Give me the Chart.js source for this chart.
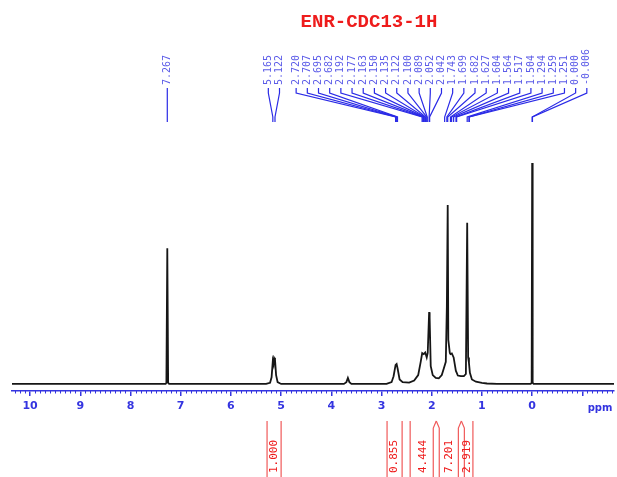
<!DOCTYPE html>
<html>
<head>
<meta charset="utf-8">
<title>ENR-CDC13-1H</title>
<script src="https://cdn.jsdelivr.net/npm/chart.js@4.4.1/dist/chart.umd.min.js"></script>
<style>
  html, body { margin: 0; padding: 0; background: #fff; }
  #wrap { width: 617px; height: 477px; position: relative; }
</style>
</head>
<body>
<div id="wrap"><canvas id="nmr"></canvas></div>
<script>
// 1H NMR spectrum, ENR in CDCl3 - redrawn with Chart.js

var TITLE = 'ENR-CDC13-1H';

// spectrum trace (ppm, relative intensity, TMS = 100)
var shiftPpm = [10.36, 7.30, 7.285, 7.267, 7.25, 7.23,
  5.30, 5.22, 5.19, 5.165, 5.15, 5.14, 5.122, 5.10, 5.07, 5.00,
  3.75, 3.70, 3.67, 3.64, 3.60,
  2.90, 2.80, 2.76, 2.72, 2.70, 2.68, 2.64, 2.58, 2.45, 2.35, 2.27, 2.22, 2.19, 2.16, 2.13, 2.10, 2.08,
  2.052, 2.042, 2.02, 1.98, 1.92, 1.86, 1.80, 1.76, 1.72, 1.699, 1.682, 1.67, 1.64, 1.627, 1.60, 1.564,
  1.52, 1.48, 1.42, 1.36, 1.32, 1.294, 1.275, 1.259, 1.24, 1.20, 1.12, 1.00, 0.90, 0.70,
  0.03, 0.01, 0.000, -0.01, -0.03, -1.63];
var intensity = [0, 0, 0.5, 61.4, 0.5, 0,
  0, 0.5, 3, 10.5, 9, 11.8, 11, 4, 0.8, 0,
  0, 0.8, 2.7, 0.8, 0,
  0, 0.8, 3.5, 8.6, 9, 7, 2, 0.8, 0.6, 1.5, 4, 10, 14, 13.5, 14.2, 12, 14,
  32.5, 30, 8, 4, 2.7, 2.5, 4, 7, 10, 35, 81, 20, 14, 13.5, 13.8, 12,
  6, 3.8, 3.5, 3.5, 4.5, 73, 12, 9.5, 5, 2, 1, 0.5, 0.2, 0,
  0, 0.5, 100, 0.5, 0, 0];

// peak picking labels (ppm)
var peakLabels = ['7.267', '5.165', '5.122',
  '2.720', '2.707', '2.695', '2.682', '2.192', '2.177', '2.163', '2.150', '2.135', '2.122',
  '2.100', '2.089', '2.052', '2.042', '1.743', '1.699', '1.682', '1.627', '1.604', '1.564',
  '1.517', '1.504', '1.294', '1.259', '1.251', '0.000', '-0.006'];

// integral regions (ppm) and values
var integralFrom = [5.28, 2.89, 2.43, 1.91, 1.41];
var integralTo = [5.00, 2.59, 1.91, 1.41, 1.18];
var integralValue = ['1.000', '0.855', '4.444', '7.201', '2.919'];

var BLUE = '#3434e0';
var LABEL_BLUE = '#5c5ce8';
var RED = '#ee1c1c';
var INT_RED = '#f05a5a';

// spread crowded labels: merge overlapping groups, centre each group on its peaks
function spreadLabels(pixels, gap) {
  var groups = pixels.map(function (p, i) { return { first: i, n: 1, sum: p }; });
  function start(g) { return g.sum / g.n - (g.n - 1) * gap / 2; }
  var changed = true;
  while (changed) {
    changed = false;
    for (var i = 0; i < groups.length - 1; i++) {
      var a = groups[i], b = groups[i + 1];
      if (start(a) + a.n * gap > start(b)) {
        a.n += b.n;
        a.sum += b.sum;
        groups.splice(i + 1, 1);
        changed = true;
        break;
      }
    }
  }
  var out = [];
  groups.forEach(function (g) {
    var s = start(g);
    for (var k = 0; k < g.n; k++) out[g.first + k] = s + k * gap;
  });
  return out;
}

var decorPlugin = {
  id: 'nmrDecor',
  afterDraw: function (chart) {
    var ctx = chart.ctx;
    var xs = chart.scales.x;
    var area = chart.chartArea;

    // title
    ctx.save();
    ctx.fillStyle = RED;
    ctx.font = 'bold 19px "Liberation Mono", "DejaVu Sans Mono", monospace';
    ctx.textAlign = 'center';
    ctx.textBaseline = 'alphabetic';
    ctx.fillText(TITLE, 369, 27);
    ctx.restore();

    // minor ticks every 0.1 ppm
    ctx.save();
    ctx.strokeStyle = BLUE;
    ctx.lineWidth = 1;
    for (var t = Math.ceil(xs.min * 10); t <= Math.floor(xs.max * 10); t++) {
      if (t % 10 === 0) continue;
      var mx = Math.round(xs.getPixelForValue(t / 10)) + 0.5;
      ctx.beginPath();
      ctx.moveTo(mx, area.bottom - 1);
      ctx.lineTo(mx, area.bottom + 2.5);
      ctx.stroke();
    }
    ctx.fillStyle = BLUE;
    ctx.font = 'bold 10px "DejaVu Sans", sans-serif';
    ctx.textAlign = 'center';
    ctx.textBaseline = 'middle';
    ctx.fillText('ppm', 600, 408);
    ctx.restore();

    // peak labels with connectors
    var peakPx = peakLabels.map(function (s) { return xs.getPixelForValue(parseFloat(s)); });
    var labelPx = spreadLabels(peakPx, 11.18);
    ctx.save();
    ctx.strokeStyle = '#2a2ae6';
    ctx.lineWidth = 1.2;
    peakLabels.forEach(function (s, i) {
      ctx.beginPath();
      ctx.moveTo(labelPx[i], 88);
      ctx.lineTo(labelPx[i], 93);
      ctx.lineTo(peakPx[i], 117);
      ctx.lineTo(peakPx[i], 122);
      ctx.stroke();

      ctx.save();
      ctx.translate(labelPx[i], 85);
      ctx.rotate(-Math.PI / 2);
      ctx.fillStyle = LABEL_BLUE;
      ctx.font = '10px "DejaVu Sans Mono", monospace';
      ctx.textAlign = 'left';
      ctx.textBaseline = 'middle';
      ctx.fillText(s, 0, 0);
      ctx.restore();
    });
    ctx.restore();

    // integrals below the axis
    ctx.save();
    ctx.strokeStyle = INT_RED;
    ctx.lineWidth = 1.2;
    integralValue.forEach(function (val, i) {
      var xl = xs.getPixelForValue(integralFrom[i]);
      var xr = xs.getPixelForValue(integralTo[i]);
      var sharedL = integralTo.indexOf(integralFrom[i]) >= 0;
      var sharedR = integralFrom.indexOf(integralTo[i]) >= 0;
      ctx.beginPath();
      ctx.moveTo(xl, 421);
      ctx.lineTo(xl + (sharedL ? 3 : 0), 428);
      ctx.lineTo(xl + (sharedL ? 3 : 0), 477);
      ctx.moveTo(xr, 421);
      ctx.lineTo(xr - (sharedR ? 3 : 0), 428);
      ctx.lineTo(xr - (sharedR ? 3 : 0), 477);
      ctx.stroke();

      ctx.save();
      ctx.translate((xl + xr) / 2, 440);
      ctx.rotate(-Math.PI / 2);
      ctx.fillStyle = RED;
      ctx.font = '11px "DejaVu Sans Mono", monospace';
      ctx.textAlign = 'right';
      ctx.textBaseline = 'middle';
      ctx.fillText(val, 0, 0);
      ctx.restore();
    });
    ctx.restore();
  }
};

var points = shiftPpm.map(function (p, i) { return { x: p, y: intensity[i] }; });

new Chart(document.getElementById('nmr').getContext('2d'), {
  type: 'line',
  data: {
    datasets: [{
      data: points,
      borderColor: '#161616',
      borderWidth: 1.8,
      pointRadius: 0,
      tension: 0,
      fill: false
    }]
  },
  options: {
    responsive: true,
    maintainAspectRatio: false,
    animation: false,
    layout: { padding: { top: 163, left: 12, right: 3, bottom: 0 } },
    plugins: {
      legend: { display: false },
      tooltip: { enabled: false }
    },
    scales: {
      x: {
        type: 'linear',
        reverse: true,
        min: -1.63,
        max: 10.36,
        afterFit: function (scale) { scale.height = 86; },
        border: { color: BLUE, width: 1.5 },
        grid: { drawOnChartArea: false, drawTicks: true, tickLength: 5, color: BLUE, lineWidth: 1.5 },
        ticks: {
          stepSize: 1,
          includeBounds: false,
          autoSkip: false,
          maxRotation: 0,
          padding: 4,
          color: BLUE,
          font: { family: '"DejaVu Sans", sans-serif', size: 11, weight: 'bold' },
          callback: function (v) { return v === -1 ? '' : v; }
        }
      },
      y: {
        display: false,
        min: -3.2,
        max: 100
      }
    }
  },
  plugins: [decorPlugin]
});
</script>
</body>
</html>
